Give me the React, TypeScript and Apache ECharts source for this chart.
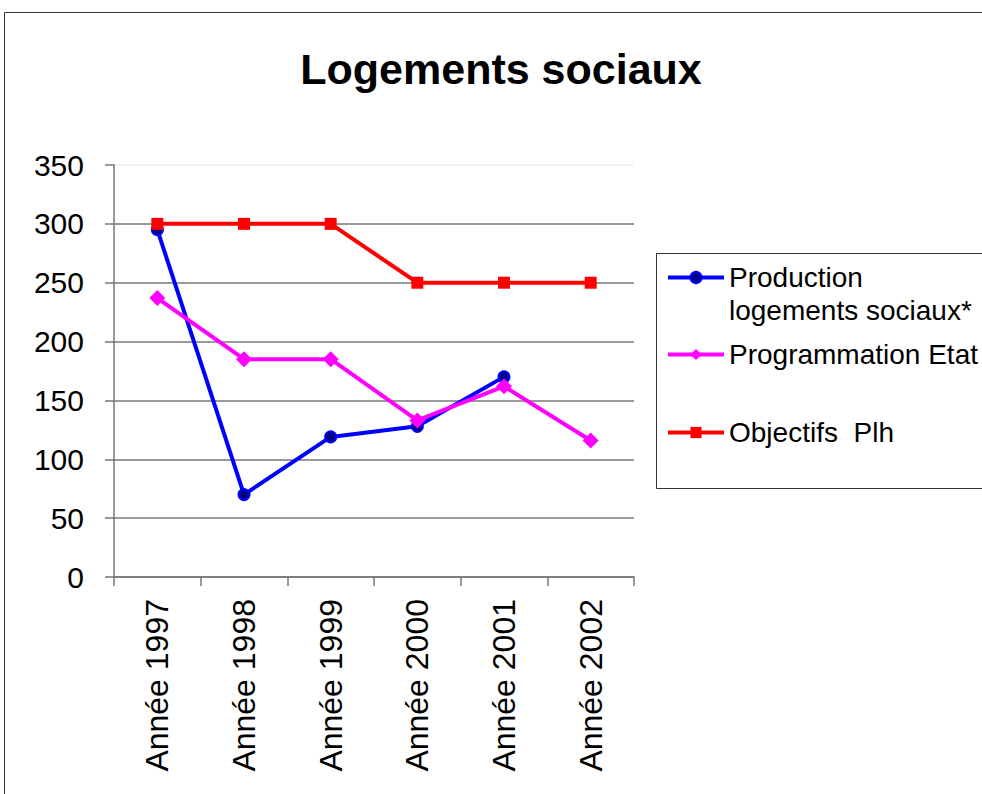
import React, { useEffect, useRef } from "react";
import * as echarts from "echarts";

const categories = ["Année 1997", "Année 1998", "Année 1999", "Année 2000", "Année 2001", "Année 2002"];
const production = [295, 70, 119, 128, 170, null];
const programmation = [237, 185, 185, 133, 162, 116];
const objectifs = [300, 300, 300, 250, 250, 250];
const seriesNames = ["Production\nlogements sociaux*", "Programmation Etat", "Objectifs  Plh"];

const FONT = "'Liberation Sans', Arial, sans-serif";

export default function App() {
  const ref = useRef<HTMLDivElement>(null);
  useEffect(() => {
    if (!ref.current) return;
    const chart = echarts.init(ref.current, null, { renderer: "svg" });
    const legendCommon = {
      orient: "vertical",
      itemWidth: 56,
      itemHeight: 14,
      textStyle: { fontSize: 28, color: "#000", fontFamily: FONT, lineHeight: 33 },
      lineStyle: { width: 4 },
      selectedMode: false,
      padding: 0,
    };
    chart.setOption({
      animation: false,
      backgroundColor: "#fff",
      textStyle: { fontFamily: FONT },
      title: {
        text: "Logements sociaux",
        left: 496,
        textAlign: "center",
        top: 42,
        textStyle: { fontSize: 43, fontWeight: "bold", color: "#000", fontFamily: FONT },
      },
      grid: { left: 114, top: 165, width: 520, height: 412 },
      legend: [
        {
          ...legendCommon,
          left: 666,
          top: 228,
          formatter: (name: string) => "\n" + name,
          data: [seriesNames[0]],
        },
        { ...legendCommon, left: 666, top: 338, data: [seriesNames[1]] },
        { ...legendCommon, left: 666, top: 416, data: [seriesNames[2]] },
      ],
      xAxis: {
        type: "category",
        data: categories,
        boundaryGap: true,
        axisLine: { lineStyle: { color: "#777", width: 1.5 } },
        axisTick: { show: true, length: 9, lineStyle: { color: "#777", width: 1.5 } },
        axisLabel: { rotate: 90, fontSize: 32, color: "#000", margin: 22, fontFamily: FONT },
      },
      yAxis: {
        type: "value",
        min: 0,
        max: 350,
        interval: 50,
        axisLine: { show: true, lineStyle: { color: "#777", width: 1.5 } },
        axisTick: { show: true, length: 9, lineStyle: { color: "#777", width: 1.5 } },
        axisLabel: { fontSize: 30, color: "#000", margin: 30, fontFamily: FONT },
        splitLine: {
          show: true,
          lineStyle: {
            color: ["#777", "#777", "#777", "#777", "#777", "#777", "#777", "#eee"],
            width: 1.5,
          },
        },
      },
      series: [
        {
          name: seriesNames[0],
          type: "line",
          data: production,
          symbol: "circle",
          symbolSize: 11,
          lineStyle: { color: "#0000FF", width: 4 },
          itemStyle: { color: "#000080", borderColor: "#0000FF", borderWidth: 2 },
          connectNulls: false,
        },
        {
          name: seriesNames[1],
          type: "line",
          data: programmation,
          symbol: "diamond",
          symbolSize: 16,
          lineStyle: { color: "#FF00FF", width: 4 },
          itemStyle: { color: "#FF00FF" },
        },
        {
          name: seriesNames[2],
          type: "line",
          data: objectifs,
          symbol: "rect",
          symbolSize: 12,
          lineStyle: { color: "#FF0000", width: 4 },
          itemStyle: { color: "#FF0000" },
        },
      ],
      graphic: [
        {
          type: "rect",
          shape: { x: 4.5, y: 12.5, width: 1000, height: 800 },
          style: { fill: "none", stroke: "#333", lineWidth: 1 },
          silent: true,
        },
        {
          type: "rect",
          shape: { x: 656.5, y: 253.5, width: 340, height: 235 },
          style: { fill: "none", stroke: "#333", lineWidth: 1 },
          silent: true,
        },
      ],
    });
    return () => chart.dispose();
  }, []);
  return (
    <div
      ref={ref}
      style={{ position: "fixed", left: 0, top: 0, width: 982, height: 794 }}
    />
  );
}
